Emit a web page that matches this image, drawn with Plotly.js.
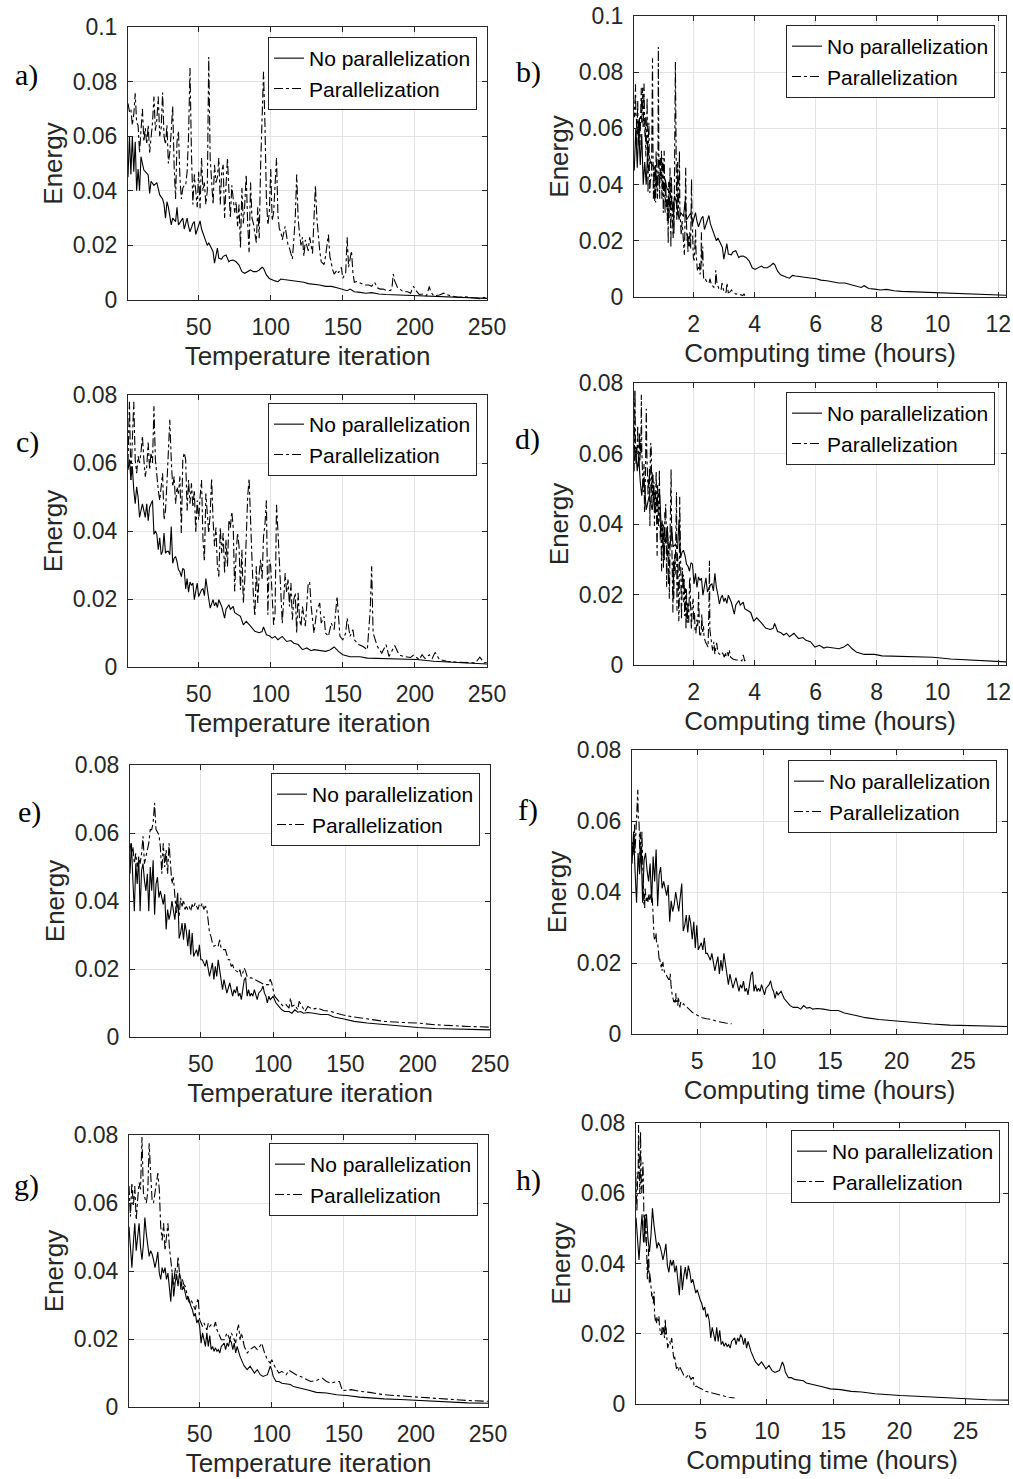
<!DOCTYPE html>
<html><head><meta charset="utf-8">
<script src="https://cdn.plot.ly/plotly-3.0.1.min.js"></script>
<style>html,body{margin:0;padding:0;background:#fff}#chart{width:1013px;height:1479px}</style>
</head><body><div id="chart"></div>
<script>
// ---------- DATA: [temperature iteration, energy] ----------
const aNoPar = [[1,0.045],[2,0.06],[3,0.046],[4,0.06],[5,0.047],[6,0.058],[7,0.04],[8,0.048],[9,0.04],[10,0.0525],[11,0.05],[12,0.0476],[13,0.047],[15,0.0458],[16,0.039],[17,0.0435],[19,0.042],[21,0.043],[23,0.0385],[25,0.037],[26,0.035],[27,0.030],[28,0.036],[29,0.034],[31,0.0275],[32,0.030],[34,0.0287],[35,0.034],[36,0.0275],[38,0.0295],[39,0.030],[40,0.026],[42,0.030],[43,0.027],[44,0.025],[46,0.028],[47,0.0287],[48,0.024],[50,0.0275],[51,0.029],[52,0.026],[54,0.0226],[56,0.020],[57,0.021],[58,0.020],[60,0.0177],[61,0.0135],[62,0.016],[63,0.019],[64,0.0153],[66,0.015],[67,0.016],[69,0.0165],[71,0.014],[72,0.0145],[74,0.0146],[76,0.014],[78,0.0128],[80,0.0104],[82,0.0098],[84,0.0105],[86,0.011],[88,0.0104],[90,0.0104],[92,0.011],[94,0.012],[95,0.0116],[97,0.0092],[99,0.0079],[101,0.0073],[103,0.007],[105,0.0067],[107,0.0077],[109,0.0075],[112,0.0073],[115,0.0073],[118,0.007],[120,0.0067],[123,0.0065],[126,0.006],[130,0.0058],[134,0.0055],[138,0.005],[142,0.005],[146,0.0045],[150,0.0038],[153,0.0034],[155,0.004],[158,0.003],[162,0.0028],[166,0.0025],[170,0.0027],[175,0.0022],[180,0.002],[190,0.0018],[200,0.0015],[213,0.0012],[225,0.001],[240,0.0008],[250,0.0006]];
const aPar = [[1,0.072],[2,0.069],[3,0.07],[4,0.064],[5,0.068],[6,0.0757],[7,0.065],[8,0.064],[9,0.054],[10,0.062],[11,0.07],[12,0.058],[13,0.063],[14,0.057],[15,0.064],[16,0.054],[17,0.06],[18,0.065],[19,0.0745],[20,0.062],[21,0.066],[22,0.0745],[23,0.06],[24,0.063],[25,0.076],[26,0.06],[27,0.057],[28,0.064],[29,0.05],[30,0.054],[31,0.062],[32,0.071],[33,0.049],[34,0.037],[35,0.058],[36,0.062],[37,0.045],[38,0.037],[39,0.041],[40,0.042],[41,0.042],[42,0.047],[43,0.06],[44,0.085],[45,0.054],[46,0.035],[47,0.046],[48,0.0385],[49,0.034],[50,0.047],[51,0.0336],[52,0.052],[53,0.04],[54,0.043],[55,0.035],[56,0.04],[57,0.089],[58,0.052],[59,0.042],[60,0.035],[61,0.0495],[62,0.043],[63,0.045],[64,0.052],[65,0.035],[66,0.047],[67,0.0495],[68,0.03],[69,0.042],[70,0.052],[71,0.04],[72,0.03],[73,0.042],[74,0.038],[75,0.032],[76,0.036],[77,0.027],[78,0.035],[79,0.019],[80,0.041],[81,0.028],[82,0.035],[83,0.046],[84,0.028],[85,0.0175],[86,0.043],[87,0.03],[88,0.028],[89,0.025],[90,0.021],[91,0.034],[92,0.0226],[93,0.0495],[94,0.07],[95,0.0836],[96,0.064],[97,0.037],[98,0.0275],[99,0.032],[100,0.048],[101,0.029],[102,0.032],[103,0.042],[104,0.052],[105,0.031],[106,0.026],[107,0.025],[108,0.022],[110,0.027],[112,0.02],[113,0.019],[115,0.015],[116,0.022],[117,0.03],[118,0.046],[119,0.03],[120,0.024],[121,0.02],[122,0.023],[123,0.016],[124,0.022],[125,0.02],[126,0.018],[127,0.023],[128,0.02],[129,0.017],[130,0.03],[131,0.042],[132,0.03],[133,0.022],[134,0.018],[135,0.014],[136,0.0135],[137,0.013],[138,0.016],[139,0.02],[140,0.024],[141,0.016],[142,0.013],[143,0.011],[144,0.0095],[146,0.011],[147,0.01],[149,0.012],[150,0.008],[151,0.009],[152,0.01],[153,0.023],[154,0.012],[155,0.015],[156,0.018],[157,0.01],[158,0.0065],[160,0.0068],[163,0.006],[165,0.0055],[168,0.0055],[170,0.005],[172,0.0065],[174,0.0045],[176,0.004],[178,0.004],[180,0.0035],[183,0.0035],[184,0.004],[185,0.0095],[186,0.007],[188,0.0045],[190,0.0038],[192,0.003],[195,0.003],[197,0.0025],[199,0.005],[200,0.004],[203,0.002],[206,0.0022],[208,0.0015],[210,0.005],[211,0.003],[213,0.0015],[217,0.0018],[220,0.0025],[222,0.002],[225,0.0015],[230,0.001],[235,0.0012],[240,0.0008],[245,0.0005],[248,0.001],[250,0.0005]];
const cNoPar = [[1,0.058],[2,0.061],[3,0.055],[4,0.059],[5,0.052],[6,0.048],[7,0.053],[8,0.05],[9,0.044],[10,0.046],[11,0.048],[12,0.046],[13,0.044],[14,0.048],[15,0.043],[16,0.047],[17,0.048],[18,0.049],[19,0.039],[20,0.04],[21,0.039],[22,0.0345],[23,0.038],[24,0.033],[25,0.034],[26,0.0394],[27,0.0335],[28,0.034],[29,0.034],[30,0.033],[31,0.0413],[32,0.0305],[33,0.032],[34,0.0325],[35,0.031],[36,0.0286],[37,0.028],[38,0.0266],[39,0.029],[40,0.0286],[41,0.023],[42,0.026],[43,0.022],[44,0.025],[45,0.024],[46,0.0247],[47,0.0198],[48,0.022],[49,0.0247],[50,0.0207],[51,0.022],[52,0.0227],[53,0.023],[54,0.021],[55,0.026],[56,0.022],[57,0.020],[58,0.0173],[59,0.019],[60,0.0198],[61,0.018],[62,0.019],[63,0.0175],[64,0.0198],[66,0.0178],[67,0.016],[68,0.0144],[69,0.017],[71,0.0183],[72,0.017],[74,0.0178],[75,0.016],[77,0.0154],[79,0.0149],[81,0.0124],[83,0.0134],[86,0.012],[89,0.0105],[92,0.0101],[94,0.0104],[95,0.0118],[97,0.0095],[99,0.0092],[101,0.0085],[103,0.009],[105,0.008],[108,0.009],[111,0.0075],[114,0.0078],[116,0.007],[119,0.0066],[122,0.0051],[125,0.0056],[128,0.0048],[130,0.0051],[134,0.0049],[138,0.0046],[141,0.005],[144,0.0059],[147,0.0046],[150,0.0036],[155,0.003],[162,0.003],[167,0.0026],[178,0.0025],[190,0.0024],[201,0.0022],[213,0.0017],[225,0.0014],[236,0.0012],[250,0.0009]];
const cPar = [[1,0.06],[2,0.078],[3,0.055],[4,0.068],[5,0.078],[6,0.061],[7,0.057],[8,0.062],[9,0.06],[10,0.063],[11,0.068],[12,0.061],[13,0.056],[14,0.059],[15,0.066],[16,0.058],[17,0.063],[18,0.06],[19,0.0767],[20,0.061],[21,0.055],[22,0.052],[23,0.049],[24,0.053],[25,0.057],[26,0.0433],[27,0.046],[28,0.054],[29,0.062],[30,0.0727],[31,0.061],[32,0.053],[33,0.056],[34,0.048],[35,0.053],[36,0.051],[37,0.056],[38,0.0394],[39,0.061],[40,0.063],[41,0.061],[42,0.046],[43,0.055],[44,0.048],[45,0.054],[46,0.047],[47,0.052],[48,0.0394],[49,0.049],[50,0.0433],[51,0.05],[52,0.055],[53,0.0375],[54,0.031],[55,0.051],[56,0.0433],[57,0.0394],[58,0.045],[59,0.0555],[60,0.0433],[61,0.0355],[62,0.041],[63,0.0296],[64,0.0266],[65,0.041],[66,0.0335],[67,0.0394],[68,0.0276],[69,0.0375],[70,0.0296],[71,0.0433],[72,0.041],[73,0.0457],[74,0.041],[75,0.0222],[76,0.0335],[77,0.0394],[78,0.0355],[79,0.0227],[80,0.0345],[81,0.0188],[82,0.0257],[83,0.0394],[84,0.05],[85,0.0555],[86,0.0394],[87,0.0316],[88,0.0208],[89,0.0149],[90,0.0296],[91,0.0188],[92,0.0276],[93,0.0316],[94,0.0257],[95,0.0384],[96,0.042],[97,0.049],[98,0.0154],[99,0.0316],[100,0.0296],[101,0.0218],[102,0.0124],[103,0.0159],[104,0.0477],[105,0.04],[106,0.0316],[107,0.0218],[108,0.0129],[109,0.0198],[110,0.0276],[111,0.0218],[112,0.0257],[113,0.0178],[114,0.0247],[115,0.0139],[116,0.0198],[117,0.0218],[118,0.01],[119,0.0218],[120,0.0139],[121,0.012],[122,0.0178],[124,0.012],[126,0.0247],[127,0.025],[128,0.018],[130,0.01],[132,0.0168],[134,0.0188],[135,0.0129],[137,0.0149],[138,0.01],[140,0.009],[142,0.0129],[144,0.011],[146,0.0208],[148,0.009],[150,0.008],[152,0.01],[153,0.0144],[155,0.009],[157,0.011],[158,0.008],[161,0.0066],[164,0.006],[167,0.0051],[169,0.0168],[170,0.0296],[171,0.01],[174,0.006],[177,0.0041],[180,0.0066],[182,0.0031],[186,0.0063],[189,0.0036],[192,0.0031],[197,0.0028],[199,0.0035],[203,0.0022],[205,0.0036],[207,0.0025],[210,0.0036],[212,0.0025],[214,0.0043],[217,0.0022],[222,0.0017],[229,0.0014],[236,0.0014],[242,0.0012],[245,0.0029],[248,0.0012],[250,0.0014]];
const eNoPar = [[1,0.048],[2,0.057],[3,0.046],[4,0.037],[5,0.051],[6,0.045],[7,0.053],[8,0.037],[9,0.049],[10,0.051],[11,0.046],[12,0.043],[13,0.048],[14,0.037],[15,0.05],[16,0.043],[17,0.052],[18,0.036],[19,0.045],[20,0.047],[21,0.041],[22,0.043],[23,0.041],[24,0.039],[25,0.042],[26,0.0316],[27,0.0375],[28,0.0345],[29,0.0365],[30,0.04],[32,0.0345],[33,0.038],[34,0.0424],[35,0.029],[36,0.0306],[37,0.0335],[38,0.0286],[39,0.0335],[40,0.031],[41,0.0267],[42,0.0316],[43,0.0242],[44,0.0306],[45,0.0237],[47,0.0257],[48,0.0237],[49,0.0271],[50,0.0227],[51,0.0227],[52,0.0218],[53,0.0208],[54,0.0227],[56,0.0178],[57,0.0198],[58,0.0218],[59,0.0169],[60,0.0208],[61,0.0178],[62,0.0227],[63,0.0198],[64,0.0159],[65,0.0139],[66,0.0169],[67,0.0149],[68,0.0129],[70,0.0159],[71,0.0139],[72,0.012],[73,0.0139],[74,0.0129],[75,0.0149],[76,0.012],[77,0.0129],[78,0.011],[79,0.0139],[80,0.0168],[81,0.0175],[82,0.012],[83,0.0139],[84,0.012],[85,0.0129],[86,0.012],[87,0.0139],[88,0.012],[89,0.011],[90,0.0129],[92,0.0139],[93,0.015],[94,0.0129],[95,0.012],[96,0.01],[97,0.012],[98,0.011],[100,0.012],[102,0.01],[104,0.009],[106,0.008],[108,0.0075],[111,0.0075],[113,0.007],[115,0.008],[117,0.0073],[119,0.0075],[121,0.007],[124,0.0072],[128,0.007],[133,0.0066],[138,0.0066],[142,0.0059],[149,0.0053],[156,0.0046],[165,0.0041],[177,0.0036],[188,0.0031],[200,0.0028],[212,0.0025],[223,0.0024],[235,0.0023],[250,0.0021]];
const ePar = [[1,0.057],[2,0.054],[3,0.056],[4,0.051],[5,0.054],[6,0.05],[7,0.053],[8,0.051],[9,0.054],[10,0.059],[11,0.051],[12,0.053],[13,0.055],[14,0.057],[15,0.061],[16,0.061],[17,0.063],[18,0.0688],[19,0.061],[20,0.06],[21,0.0595],[22,0.056],[23,0.048],[24,0.057],[25,0.05],[26,0.055],[27,0.048],[28,0.057],[29,0.051],[30,0.045],[31,0.047],[32,0.041],[33,0.0365],[34,0.0394],[35,0.0355],[36,0.041],[37,0.0384],[38,0.0404],[39,0.0375],[40,0.0384],[41,0.0375],[42,0.0384],[43,0.037],[44,0.039],[45,0.038],[46,0.0394],[48,0.0375],[49,0.039],[50,0.0384],[51,0.0394],[52,0.0375],[53,0.0384],[54,0.038],[55,0.0345],[56,0.0306],[57,0.0296],[58,0.0276],[59,0.0267],[61,0.0272],[62,0.0267],[63,0.0286],[64,0.0262],[65,0.0257],[67,0.0257],[68,0.0242],[69,0.0227],[70,0.0227],[71,0.0208],[72,0.0213],[73,0.0198],[75,0.0193],[76,0.0188],[77,0.0198],[78,0.0178],[79,0.0188],[80,0.0203],[81,0.0193],[82,0.0178],[83,0.0178],[84,0.0174],[85,0.0174],[87,0.0169],[90,0.0164],[92,0.0159],[94,0.0154],[97,0.0154],[98,0.017],[99,0.0159],[100,0.0139],[101,0.012],[103,0.011],[105,0.01],[107,0.009],[109,0.0095],[111,0.0085],[112,0.0115],[113,0.009],[115,0.0095],[117,0.008],[118,0.0105],[120,0.009],[122,0.0075],[124,0.009],[127,0.0082],[131,0.0085],[135,0.0078],[140,0.0075],[147,0.0066],[154,0.006],[165,0.0053],[177,0.0046],[188,0.0043],[200,0.0041],[212,0.0036],[223,0.0033],[235,0.0031],[250,0.0029]];
const gNoPar = [[1,0.053],[2,0.045],[3,0.041],[4,0.048],[5,0.054],[6,0.046],[7,0.051],[8,0.054],[9,0.047],[10,0.0433],[11,0.048],[12,0.0557],[13,0.051],[14,0.048],[15,0.0443],[16,0.046],[17,0.045],[18,0.0433],[19,0.041],[20,0.043],[21,0.0456],[22,0.0394],[23,0.0375],[24,0.041],[25,0.0394],[26,0.041],[27,0.0375],[28,0.0394],[29,0.036],[30,0.031],[31,0.0394],[32,0.0325],[33,0.0365],[34,0.039],[35,0.0355],[36,0.0394],[37,0.0375],[38,0.0345],[39,0.0355],[40,0.0335],[41,0.0316],[42,0.0325],[43,0.0306],[44,0.0296],[45,0.0286],[46,0.0267],[47,0.0276],[48,0.0247],[49,0.0257],[50,0.0237],[51,0.0188],[52,0.0218],[53,0.0198],[54,0.0178],[55,0.0218],[56,0.0178],[57,0.021],[58,0.0169],[59,0.0178],[60,0.0164],[61,0.0174],[62,0.0164],[63,0.0169],[64,0.0159],[65,0.0178],[67,0.0188],[68,0.0169],[69,0.0188],[70,0.0178],[71,0.0198],[72,0.019],[73,0.0169],[74,0.0188],[75,0.0159],[76,0.0178],[77,0.0159],[78,0.0149],[80,0.0129],[81,0.012],[83,0.011],[85,0.012],[88,0.01],[90,0.011],[92,0.0095],[94,0.009],[97,0.0095],[99,0.012],[100,0.0109],[101,0.009],[103,0.0075],[105,0.0075],[107,0.007],[110,0.0069],[113,0.0066],[115,0.006],[120,0.0056],[125,0.005],[131,0.0043],[138,0.0041],[145,0.0036],[152,0.0034],[161,0.0029],[171,0.0025],[178,0.0024],[189,0.0022],[201,0.0019],[212,0.0016],[224,0.0014],[236,0.0012],[250,0.0011]];
const gPar = [[1,0.065],[2,0.056],[3,0.066],[4,0.059],[5,0.065],[6,0.055],[7,0.061],[8,0.066],[9,0.064],[10,0.0794],[11,0.063],[12,0.061],[13,0.06],[14,0.063],[15,0.0776],[16,0.0688],[17,0.061],[18,0.06],[19,0.063],[20,0.065],[21,0.0688],[22,0.064],[23,0.053],[24,0.049],[25,0.054],[26,0.046],[27,0.05],[28,0.054],[29,0.047],[30,0.0433],[31,0.0394],[32,0.0355],[33,0.041],[34,0.0375],[35,0.0443],[36,0.0384],[37,0.0345],[38,0.0375],[39,0.036],[40,0.0355],[41,0.0335],[42,0.0316],[43,0.0306],[44,0.0316],[46,0.0296],[47,0.0286],[48,0.0306],[49,0.032],[50,0.0257],[51,0.0247],[52,0.0237],[53,0.0247],[54,0.0237],[55,0.0227],[56,0.0247],[57,0.0237],[58,0.0242],[60,0.0237],[61,0.025],[62,0.0227],[63,0.0218],[64,0.0208],[65,0.0198],[67,0.0198],[68,0.0208],[69,0.0218],[70,0.0208],[71,0.0198],[72,0.0218],[73,0.0208],[75,0.0188],[76,0.0225],[77,0.0242],[78,0.0198],[79,0.0218],[80,0.0198],[81,0.0178],[83,0.0159],[85,0.0169],[88,0.0178],[90,0.0169],[92,0.018],[93,0.0188],[94,0.0174],[95,0.0159],[97,0.0139],[99,0.0129],[100,0.0139],[102,0.012],[105,0.01],[107,0.0105],[110,0.0095],[112,0.0108],[115,0.01],[118,0.0092],[120,0.009],[124,0.008],[127,0.0075],[131,0.0078],[135,0.0085],[138,0.0075],[141,0.007],[145,0.0075],[147,0.0075],[149,0.0048],[155,0.0051],[161,0.0046],[168,0.0043],[178,0.0036],[189,0.0033],[201,0.0028],[212,0.0025],[224,0.0022],[236,0.0019],[250,0.0017]];

// total computing time (hours) of each run
const hoursNoPar = [12.25, 12.25, 28.3, 28.2];
const hoursPar = [3.68, 3.7, 7.6, 7.55];
const totalIterations = 250;

const seriesNames = ['No parallelization', 'Parallelization'];
const panelLetters = ['a)', 'b)', 'c)', 'd)', 'e)', 'f)', 'g)', 'h)'];
const xTitles = ['Temperature iteration', 'Computing time (hours)'];
const yTitle = 'Energy';
const yTicksTop = [0, 0.02, 0.04, 0.06, 0.08, 0.1];
const yTicksTopText = ['0', '0.02', '0.04', '0.06', '0.08', '0.1'];
const yTicks = [0, 0.02, 0.04, 0.06, 0.08];
const yTicksText = ['0', '0.02', '0.04', '0.06', '0.08'];
const iterTicks = [50, 100, 150, 200, 250];
const hourTicksShort = [2, 4, 6, 8, 10, 12];
const hourTicksLong = [5, 10, 15, 20, 25];

// ---------- LAYOUT (pixels) ----------
const W = 1013, H = 1479;
const boxes = [[128,487,27,300],[634,1006,16,297],[128,487,395,667],[634,1006,383,665],
               [130,490,765,1037],[632,1007,750,1034],[129,488,1135,1407],[636,1008,1123,1404]];
const xRanges = [[1,250],[0.04,12.25],[1,250],[0.04,12.25],[1,250],[0.11,28.3],[1,250],[0.11,28.2]];
const legendPos = [[477,37],[995,25],[477,403],[995,392],[480,773],[997,760],[478,1143],[1000,1130]];
const letterPos = [[26,75],[528,72],[27,442],[527,439],[29,812],[528,810],[26,1185],[528,1180]];

const noParRuns = [aNoPar, cNoPar, eNoPar, gNoPar];
const parRuns = [aPar, cPar, ePar, gPar];

const FONT = 'Liberation Sans, Arial, Helvetica, sans-serif';
const AX = '#262626';
const traces = [];
const layout = {
  width: W, height: H, margin: {l:0, r:0, t:0, b:0},
  paper_bgcolor: '#fff', plot_bgcolor: '#fff',
  font: {family: FONT, color: AX},
  annotations: [], showlegend: true
};

for (let p = 0; p < 8; p++) {
  const pair = Math.floor(p / 2);
  const isTime = p % 2 === 1;
  const sfx = p === 0 ? '' : String(p + 1);
  const [l, r, t, b] = boxes[p];
  const legName = 'legend' + sfx;
  const runs = [noParRuns[pair], parRuns[pair]];
  const hrs = [hoursNoPar[pair], hoursPar[pair]];
  runs.forEach((run, k) => {
    traces.push({
      type: 'scatter', mode: 'lines', name: seriesNames[k],
      x: run.map(d => isTime ? d[0] * hrs[k] / totalIterations : d[0]),
      y: run.map(d => d[1]),
      xaxis: 'x' + sfx, yaxis: 'y' + sfx, legend: legName,
      line: {color: '#000', width: 1.1, dash: k === 0 ? 'solid' : 'dashdot'},
      hoverinfo: 'skip'
    });
  });
  const xt = isTime ? (pair < 2 ? hourTicksShort : hourTicksLong) : iterTicks;
  const top = pair === 0;
  layout['xaxis' + sfx] = {
    domain: [l / W, r / W], anchor: 'y' + sfx, range: xRanges[p],
    tickmode: 'array', tickvals: xt, ticktext: xt.map(String),
    showgrid: true, gridcolor: '#e3e3e3', gridwidth: 1, zeroline: false,
    showline: true, linecolor: AX, linewidth: 1, mirror: 'ticks',
    ticks: 'inside', ticklen: 5, tickcolor: AX, ticklabelstandoff: 6,
    tickfont: {size: 23, family: FONT, color: AX},
    title: {text: xTitles[isTime ? 1 : 0], font: {size: 26, family: FONT, color: AX}, standoff: 8}
  };
  layout['yaxis' + sfx] = {
    domain: [1 - b / H, 1 - t / H], anchor: 'x' + sfx, range: top ? [0, 0.1] : [0, 0.08],
    tickmode: 'array', tickvals: top ? yTicksTop : yTicks, ticktext: top ? yTicksTopText : yTicksText,
    showgrid: true, gridcolor: '#e3e3e3', gridwidth: 1, zeroline: false,
    showline: true, linecolor: AX, linewidth: 1, mirror: 'ticks',
    ticks: 'inside', ticklen: 5, tickcolor: AX, ticklabelstandoff: 5,
    tickfont: {size: 23, family: FONT, color: AX},
    title: {text: yTitle, font: {size: 26, family: FONT, color: AX}, standoff: 2}
  };
  layout[legName] = {
    x: legendPos[p][0] / W, y: 1 - legendPos[p][1] / H, xanchor: 'right', yanchor: 'top',
    xref: 'paper', yref: 'paper',
    bgcolor: '#fff', bordercolor: AX, borderwidth: 1,
    font: {size: 21, family: FONT, color: '#000'}, tracegroupgap: 0
  };
  layout.annotations.push({
    xref: 'paper', yref: 'paper', x: letterPos[p][0] / W, y: 1 - letterPos[p][1] / H,
    xanchor: 'center', yanchor: 'middle', showarrow: false, text: panelLetters[p],
    font: {family: 'Liberation Serif, Times New Roman, serif', size: 30, color: '#000'}
  });
}

Plotly.newPlot('chart', traces, layout, {staticPlot: true, displayModeBar: false});
</script></body></html>
